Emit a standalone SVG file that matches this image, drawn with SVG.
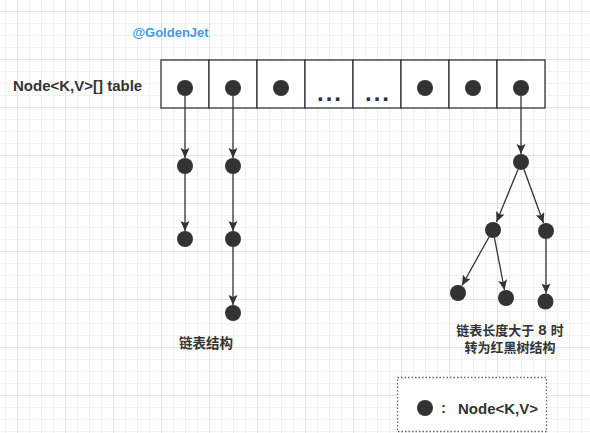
<svg xmlns="http://www.w3.org/2000/svg" width="590" height="433" viewBox="0 0 590 433">
<defs>
<pattern id="grid" x="17" y="11" width="48" height="48" patternUnits="userSpaceOnUse">
<path d="M12.5,0V48M24.5,0V48M36.5,0V48M0,12.5H48M0,24.5H48M0,36.5H48" stroke="#f0f0f0" stroke-width="1" fill="none"/>
<path d="M0.5,0V48M0,0.5H48" stroke="#e3e3e3" stroke-width="1" fill="none"/>
</pattern>
<marker id="arr" markerUnits="userSpaceOnUse" markerWidth="12" markerHeight="10" refX="10" refY="4.5" orient="auto">
<path d="M0,0L10,4.5L0,9L2,4.5Z" fill="#333"/>
</marker>
<style>
.dot{fill:#333}
.cell{fill:#fff;stroke:#333;stroke-width:1.3}
.edge{stroke:#333;stroke-width:1.3;fill:none;marker-end:url(#arr)}
.lbl{font-family:"Liberation Sans","Noto Sans CJK SC",sans-serif;font-weight:bold;font-size:13px;fill:#333}
.big{font-size:15px}
.ell{font-family:"Liberation Sans",sans-serif;font-weight:bold;font-size:24px;fill:#333;letter-spacing:2px}
</style>
</defs>
<rect width="590" height="433" fill="#fff"/>
<rect width="590" height="433" fill="url(#grid)"/>

<g id="watermark"><text x="170.5" y="36.5" text-anchor="middle" class="lbl" style="fill:#3d9be3">@GoldenJet</text></g>
<g id="table-label"><text x="13" y="90.5" class="lbl big">Node&lt;K,V&gt;[] table</text></g>

<g id="table">
<rect class="cell" x="161" y="60" width="48" height="48"/>
<rect class="cell" x="209" y="60" width="48" height="48"/>
<rect class="cell" x="257" y="60" width="48" height="48"/>
<rect class="cell" x="305" y="60" width="48" height="48"/>
<rect class="cell" x="353" y="60" width="48" height="48"/>
<rect class="cell" x="401" y="60" width="48" height="48"/>
<rect class="cell" x="449" y="60" width="48" height="48"/>
<rect class="cell" x="497" y="60" width="48" height="48"/>
<circle class="dot" cx="185" cy="88" r="8"/>
<circle class="dot" cx="233" cy="88" r="8"/>
<circle class="dot" cx="281" cy="88" r="8"/>
<text class="ell" x="330" y="101" text-anchor="middle">...</text>
<text class="ell" x="378" y="101" text-anchor="middle">...</text>
<circle class="dot" cx="425" cy="88" r="8"/>
<circle class="dot" cx="473" cy="88" r="8"/>
<circle class="dot" cx="521" cy="88" r="8"/>
</g>

<g id="connectors">
<path class="edge" d="M185,96V158"/>
<path class="edge" d="M185,174V231"/>
<path class="edge" d="M233,96V158"/>
<path class="edge" d="M233,174V231"/>
<path class="edge" d="M233,247V305"/>
<path class="edge" d="M521,96V154"/>
<path class="edge" d="M518,169.5L496.5,222"/>
<path class="edge" d="M524,169.5L543.5,223"/>
<path class="edge" d="M489,237L462,285.5"/>
<path class="edge" d="M494.5,238L504.5,290"/>
<path class="edge" d="M546,239V293.5"/>
</g>

<g id="list1">
<circle class="dot" cx="185" cy="166" r="8"/>
<circle class="dot" cx="185" cy="239" r="8"/>
</g>
<g id="list2">
<circle class="dot" cx="233" cy="166" r="8"/>
<circle class="dot" cx="233" cy="239" r="8"/>
<circle class="dot" cx="233" cy="313" r="8"/>
</g>
<g id="tree">
<circle class="dot" cx="521" cy="162" r="8"/>
<circle class="dot" cx="493" cy="230" r="8"/>
<circle class="dot" cx="546" cy="231" r="8"/>
<circle class="dot" cx="458" cy="293" r="8"/>
<circle class="dot" cx="506" cy="298" r="8"/>
<circle class="dot" cx="545.5" cy="301.5" r="8"/>
</g>

<g id="list-label"><text class="lbl" x="206" y="348" text-anchor="middle" style="font-size:13.5px">链表结构</text></g>
<g id="tree-label">
<text class="lbl" x="510" y="335" text-anchor="middle">链表长度大于<tspan style="font-size:15px"> 8 </tspan>时</text>
<text class="lbl" x="510" y="352" text-anchor="middle">转为红黑树结构</text>
</g>

<g id="legend">
<rect x="397.5" y="377.5" width="149" height="54" fill="#fff" stroke="#666" stroke-width="1.3" stroke-dasharray="1.5,2"/>
<circle class="dot" cx="425" cy="408" r="8"/>
<text class="lbl big" x="441" y="413">:</text>
<text class="lbl big" x="458" y="413.5">Node&lt;K,V&gt;</text>
</g>
</svg>
